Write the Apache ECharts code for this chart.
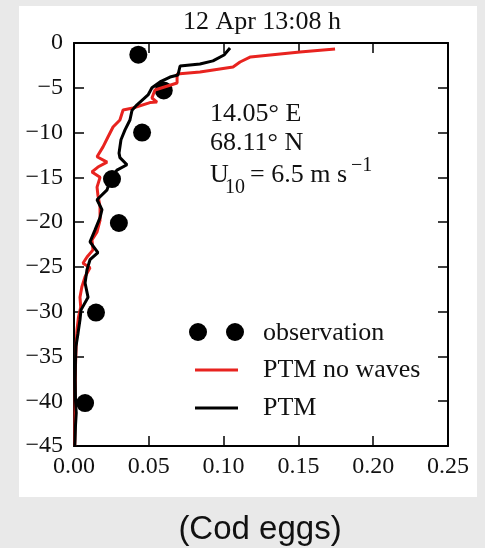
<!DOCTYPE html>
<html>
<head>
<meta charset="utf-8">
<script src="https://cdn.jsdelivr.net/npm/echarts@6/dist/echarts.min.js"></script>
<style>
  html, body { margin: 0; padding: 0; background: #e9e9e9; }
  #panel { position: absolute; left: 19px; top: 6px; width: 458px; height: 491px; background: #ffffff; }
  #chart { position: absolute; left: 0; top: 0; width: 485px; height: 548px; }
</style>
</head>
<body>
<div id="panel"></div>
<div id="chart"></div>
<script>
// ---- data ----
const xTicks = [0, 0.05, 0.10, 0.15, 0.20, 0.25];
const yTicks = [0, -5, -10, -15, -20, -25, -30, -35, -40, -45];

const obsDepth = [-1.3, -5.3, -10.0, -15.2, -20.1, -30.1, -40.2];
const obsConc  = [0.043, 0.060, 0.0455, 0.0254, 0.030, 0.0147, 0.0074];

const noWavesDepth = [-0.67, -1.0, -1.56, -2.12, -2.68, -3.24, -3.46, -4.47, -5.25, -6.14, -6.6, -6.65, -7.26, -7.48, -8.6, -9.38, -10.5, -11.6, -12.7, -13.3, -13.85, -14.4, -15.0, -16.1, -17.0, -18.3, -19.8, -21.1, -22.0, -23.1, -23.9, -24.6, -25.1, -26.1, -27.2, -28.4, -29.5, -30.6, -32.0, -33.5, -36.0, -40.0, -45.0];
const noWavesConc  = [0.1745, 0.151, 0.118, 0.111, 0.1063, 0.0842, 0.0689, 0.0689, 0.0541, 0.0521, 0.0555, 0.0508, 0.0394, 0.0328, 0.0307, 0.0261, 0.0227, 0.0194, 0.0154, 0.0221, 0.016, 0.012, 0.0174, 0.0154, 0.016, 0.0174, 0.0174, 0.0154, 0.012, 0.0127, 0.0087, 0.006, 0.0107, 0.0074, 0.0053, 0.004, 0.0045, 0.003, 0.002, 0.0015, 0.001, 0.0008, 0.0005];

const ptmDepth = [-0.56, -1.34, -2.0, -2.35, -2.57, -3.57, -3.8, -4.35, -5.0, -5.8, -6.9, -7.5, -8.6, -9.7, -10.8, -12.3, -12.8, -13.6, -14.2, -15.3, -16.4, -17.5, -18.6, -19.5, -20.9, -22.2, -23.4, -24.2, -25.3, -26.8, -28.4, -29.8, -30.9, -32.4, -33.9, -35.4, -37.6, -39.9, -41.3, -42.7, -44.3, -45.0];
const ptmConc  = [0.1043, 0.1003, 0.0929, 0.0842, 0.0709, 0.0695, 0.0642, 0.0575, 0.0521, 0.0495, 0.0421, 0.0388, 0.0374, 0.0341, 0.0314, 0.0301, 0.0307, 0.0354, 0.0287, 0.0241, 0.0221, 0.0154, 0.0187, 0.0174, 0.014, 0.0107, 0.016, 0.0107, 0.0087, 0.0074, 0.0094, 0.0047, 0.004, 0.0027, 0.0013, 0.001, 0.0008, 0.001, 0.0015, 0.001, 0.0007, 0.0005];

const pair = (xs, ys) => xs.map((x, i) => [x, ys[i]]);

const SERIF = "'Liberation Serif', 'Times New Roman', serif";
const txtColor = '#111';

const chart = echarts.init(document.getElementById('chart'), null, { renderer: 'canvas' });

const axisCommon = {
  axisLine: { show: true, onZero: false, lineStyle: { color: '#000', width: 2 } },
  axisTick: { show: true, inside: true, length: 10, lineStyle: { color: '#000', width: 1.5 } },
  splitLine: { show: false }
};

const option = {
  animation: false,
  backgroundColor: 'transparent',
  grid: { left: 74, top: 43, width: 374, height: 403, containLabel: false },
  xAxis: [
    Object.assign({
      type: 'value', min: xTicks[0], max: xTicks[xTicks.length - 1], interval: 0.05, position: 'bottom',
      axisLabel: { show: true, margin: 9, formatter: v => v.toFixed(2), fontFamily: SERIF, fontSize: 24, color: txtColor }
    }, axisCommon),
    Object.assign({
      type: 'value', min: xTicks[0], max: xTicks[xTicks.length - 1], interval: 0.05, position: 'top',
      axisLabel: { show: false }
    }, axisCommon)
  ],
  yAxis: [
    Object.assign({
      type: 'value', min: yTicks[yTicks.length - 1], max: yTicks[0], interval: 5, position: 'left',
      axisLabel: { show: true, margin: 11, formatter: v => (v === 0 ? '0' : '\u2212' + Math.abs(v)), fontFamily: SERIF, fontSize: 24, color: txtColor }
    }, axisCommon),
    Object.assign({
      type: 'value', min: yTicks[yTicks.length - 1], max: yTicks[0], interval: 5, position: 'right',
      axisLabel: { show: false }
    }, axisCommon)
  ],
  series: [
    {
      name: 'observation', type: 'scatter', xAxisIndex: 0, yAxisIndex: 0, z: 1,
      symbol: 'circle', symbolSize: 18, itemStyle: { color: '#000', opacity: 1 },
      data: pair(obsConc, obsDepth)
    },
    {
      name: 'PTM no waves', type: 'line', xAxisIndex: 0, yAxisIndex: 0, z: 3,
      showSymbol: false, symbol: 'none', lineStyle: { color: '#e8231f', width: 3 },
      data: pair(noWavesConc, noWavesDepth)
    },
    {
      name: 'PTM', type: 'line', xAxisIndex: 0, yAxisIndex: 0, z: 4,
      showSymbol: false, symbol: 'none', lineStyle: { color: '#000', width: 3 },
      data: pair(ptmConc, ptmDepth)
    }
  ],
  graphic: [
    { type: 'text', x: 262, y: 22, style: { text: '12 Apr 13:08 h', font: '26px ' + SERIF, fill: txtColor, align: 'center', verticalAlign: 'middle' } },
    { type: 'text', x: 210, y: 114, style: { text: '14.05\u00b0 E', font: '26px ' + SERIF, fill: txtColor, align: 'left', verticalAlign: 'middle' } },
    { type: 'text', x: 210, y: 143, style: { text: '68.11\u00b0 N', font: '26px ' + SERIF, fill: txtColor, align: 'left', verticalAlign: 'middle' } },
    { type: 'text', x: 210, y: 175, style: { text: 'U', font: '26px ' + SERIF, fill: txtColor, align: 'left', verticalAlign: 'middle' } },
    { type: 'text', x: 225, y: 188, style: { text: '10', font: '20px ' + SERIF, fill: txtColor, align: 'left', verticalAlign: 'middle' } },
    { type: 'text', x: 250, y: 175, style: { text: '= 6.5 m s', font: '26px ' + SERIF, fill: txtColor, align: 'left', verticalAlign: 'middle' } },
    { type: 'text', x: 351, y: 166, style: { text: '\u22121', font: '20px ' + SERIF, fill: txtColor, align: 'left', verticalAlign: 'middle' } },
    // legend
    { type: 'circle', shape: { cx: 198, cy: 332, r: 9 }, style: { fill: '#000' } },
    { type: 'circle', shape: { cx: 235, cy: 332, r: 9 }, style: { fill: '#000' } },
    { type: 'line', shape: { x1: 195, y1: 370, x2: 238, y2: 370 }, style: { stroke: '#e8231f', lineWidth: 3 } },
    { type: 'line', shape: { x1: 195, y1: 408, x2: 238, y2: 408 }, style: { stroke: '#000', lineWidth: 3 } },
    { type: 'text', x: 263, y: 333, style: { text: 'observation', font: '26px ' + SERIF, fill: txtColor, align: 'left', verticalAlign: 'middle' } },
    { type: 'text', x: 263, y: 370, style: { text: 'PTM no waves', font: '26px ' + SERIF, fill: txtColor, align: 'left', verticalAlign: 'middle' } },
    { type: 'text', x: 263, y: 408, style: { text: 'PTM', font: '26px ' + SERIF, fill: txtColor, align: 'left', verticalAlign: 'middle' } },
    // caption
    { type: 'text', x: 260, y: 530, style: { text: '(Cod eggs)', font: "33px 'Liberation Sans', Arial, sans-serif", fill: '#111', align: 'center', verticalAlign: 'middle' } }
  ]
};

chart.setOption(option);
</script>
</body>
</html>
